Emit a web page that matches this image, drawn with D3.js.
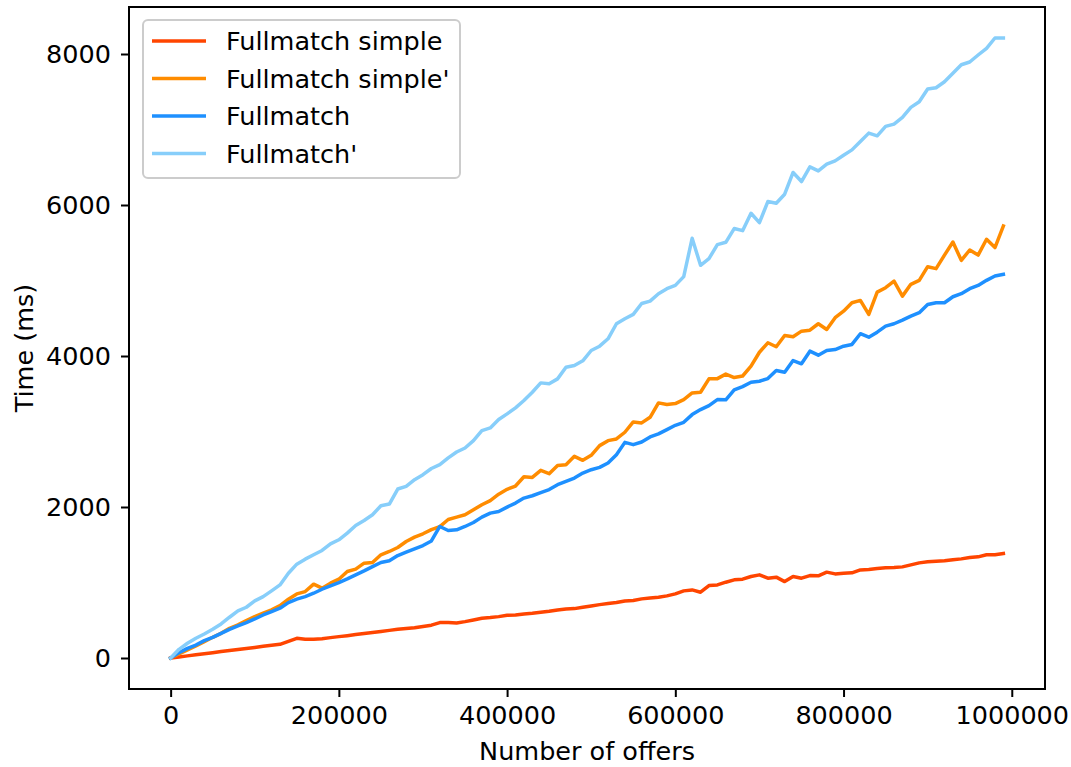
<!DOCTYPE html>
<html>
<head>
<meta charset="utf-8">
<script src="https://cdn.jsdelivr.net/npm/d3@7"></script>
<style>
  body { margin: 0; background: #fff; }
  svg { display: block; font-family: "DejaVu Sans", sans-serif; }
</style>
</head>
<body>
<svg id="chart" width="1071" height="767"></svg>
<script>
// data: offers 0 .. 990000 step 10000
var offers = d3.range(0, 1000000, 10000);

var fullmatchSimple = [
  0, 13, 28, 42, 55, 70, 85, 98, 112, 125, 140, 155, 168, 181, 221, 261, 248, 248, 256, 270,
  283, 296, 310, 325, 338, 352, 366, 380, 390, 400, 418, 435, 469, 469, 464, 482, 504, 526, 535, 548,
  566, 570, 584, 593, 606, 619, 637, 650, 654, 672, 690, 707, 721, 734, 756, 761, 783, 796, 805, 823,
  849, 889, 902, 871, 960, 968, 1004, 1035, 1044, 1079, 1101, 1057, 1071, 1012, 1079, 1057, 1092, 1088, 1137, 1114,
  1124, 1128, 1167, 1171, 1185, 1194, 1198, 1207, 1234, 1260, 1274, 1283, 1287, 1300, 1313, 1331, 1340, 1367, 1367, 1384
];

var fullmatchSimpleP = [
  0, 53, 106, 159, 217, 274, 327, 394, 438, 495, 548, 593, 637, 694, 779, 849, 880, 978, 925, 991,
  1044, 1145, 1177, 1256, 1265, 1367, 1411, 1464, 1543, 1601, 1645, 1700, 1740, 1835, 1866, 1897, 1963, 2030, 2085, 2170,
  2235, 2278, 2400, 2392, 2485, 2441, 2551, 2561, 2671, 2618, 2684, 2813, 2879, 2901, 2990, 3127, 3114, 3188, 3379, 3357,
  3370, 3423, 3511, 3520, 3698, 3700, 3760, 3715, 3735, 3865, 4050, 4175, 4122, 4272, 4255, 4329, 4342, 4427, 4352, 4507,
  4594, 4706, 4736, 4551, 4846, 4905, 4992, 4793, 4949, 5002, 5183, 5157, 5337, 5510, 5267, 5404, 5337, 5546, 5436, 5722
];

var fullmatch = [
  0, 71, 128, 172, 230, 274, 327, 380, 425, 469, 517, 570, 615, 659, 734, 779, 813, 858, 911, 955,
  999, 1048, 1101, 1154, 1211, 1265, 1287, 1357, 1402, 1446, 1490, 1550, 1742, 1689, 1698, 1742, 1795, 1866, 1919, 1941,
  1999, 2052, 2118, 2149, 2190, 2231, 2295, 2339, 2384, 2450, 2494, 2525, 2583, 2693, 2856, 2826, 2861, 2928, 2968, 3025,
  3082, 3122, 3224, 3290, 3343, 3423, 3420, 3550, 3595, 3652, 3666, 3701, 3808, 3785, 3940, 3897, 4064, 4011, 4073, 4086,
  4130, 4153, 4295, 4249, 4316, 4395, 4427, 4475, 4528, 4573, 4683, 4706, 4706, 4785, 4825, 4892, 4935, 5002, 5059, 5081
];

var fullmatchP = [
  0, 115, 195, 261, 318, 380, 451, 540, 624, 672, 756, 813, 889, 968, 1123, 1243, 1309, 1367, 1424, 1512,
  1566, 1654, 1755, 1822, 1897, 2017, 2039, 2238, 2273, 2362, 2428, 2510, 2561, 2650, 2729, 2782, 2879, 3012, 3047, 3158,
  3233, 3313, 3410, 3520, 3644, 3631, 3697, 3851, 3874, 3936, 4073, 4130, 4228, 4427, 4493, 4551, 4696, 4727, 4825, 4892,
  4935, 5051, 5559, 5201, 5290, 5475, 5506, 5688, 5660, 5891, 5767, 6046, 6023, 6143, 6431, 6311, 6505, 6452, 6541, 6585,
  6660, 6730, 6842, 6952, 6916, 7041, 7072, 7160, 7293, 7367, 7536, 7553, 7633, 7744, 7858, 7894, 7987, 8076, 8212, 8212
];

var seriesNames = ["Fullmatch simple", "Fullmatch simple'", "Fullmatch", "Fullmatch'"];
var seriesColors = ["#ff4500", "#ff8c00", "#1e90ff", "#87cefa"];
var seriesValues = [fullmatchSimple, fullmatchSimpleP, fullmatch, fullmatchP];

var xTicks = [0, 200000, 400000, 600000, 800000, 1000000];
var yTicks = [0, 2000, 4000, 6000, 8000];

// plot area (don't call it "top", window.top is read-only)
var plotL = 129, plotR = 1045, plotT = 7, plotB = 689;
var fontSize = '25.5px';
var lineW = 3.5;

var svg = d3.select('#chart');

// matplotlib style 5% margins
var xMax = d3.max(offers), yMax = d3.max(seriesValues, s => d3.max(s));
var x = d3.scaleLinear()
  .domain([-0.05 * xMax, xMax * 1.05])
  .range([plotL, plotR]);
var y = d3.scaleLinear()
  .domain([-0.05 * yMax, yMax * 1.05])
  .range([plotB, plotT]);

svg.append('clipPath').attr('id', 'clip')
  .append('rect')
  .attr('x', plotL).attr('y', plotT)
  .attr('width', plotR - plotL).attr('height', plotB - plotT);

var line = d3.line()
  .x((d, i) => x(offers[i]))
  .y(d => y(d));

svg.append('g')
  .attr('clip-path', 'url(#clip)')
  .selectAll('path')
  .data(seriesValues)
  .enter()
  .append('path')
  .attr('d', d => line(d))
  .attr('fill', 'none')
  .attr('stroke', (d, i) => seriesColors[i])
  .attr('stroke-width', lineW)
  .attr('stroke-linejoin', 'round')
  .attr('stroke-linecap', 'square');

// axes
var xAxis = svg.append('g')
  .attr('transform', 'translate(0,' + plotB + ')')
  .call(d3.axisBottom(x).tickValues(xTicks).tickFormat(d3.format('d')).tickSize(8).tickPadding(9));

var yAxis = svg.append('g')
  .attr('transform', 'translate(' + plotL + ',0)')
  .call(d3.axisLeft(y).tickValues(yTicks).tickFormat(d3.format('d')).tickSize(8).tickPadding(10));

[xAxis, yAxis].forEach(function (g) {
  g.select('.domain').remove();
  g.selectAll('.tick line').attr('stroke', '#000').attr('stroke-width', 2);
  g.selectAll('.tick text')
    .attr('fill', '#000')
    .style('font-family', '"DejaVu Sans", sans-serif')
    .style('font-size', fontSize);
});

// frame
svg.append('rect')
  .attr('x', plotL).attr('y', plotT)
  .attr('width', plotR - plotL).attr('height', plotB - plotT)
  .attr('fill', 'none')
  .attr('stroke', '#000')
  .attr('stroke-width', 2);

// axis labels
svg.append('text')
  .attr('x', (plotL + plotR) / 2)
  .attr('y', 760)
  .attr('text-anchor', 'middle')
  .style('font-size', fontSize)
  .text('Number of offers');

svg.append('text')
  .attr('transform', 'translate(33,' + (plotT + plotB) / 2 + ') rotate(-90)')
  .attr('text-anchor', 'middle')
  .style('font-size', fontSize)
  .text('Time (ms)');

// legend
var legend = svg.append('g');
legend.append('rect')
  .attr('x', 143).attr('y', 20)
  .attr('width', 317).attr('height', 158)
  .attr('rx', 5)
  .attr('fill', '#fff').attr('fill-opacity', 0.8)
  .attr('stroke', '#cccccc').attr('stroke-width', 2);

var item = legend.selectAll('.item')
  .data(seriesNames)
  .enter()
  .append('g')
  .attr('transform', (d, i) => 'translate(0,' + (41 + i * 37.5) + ')');

item.append('line')
  .attr('x1', 152).attr('x2', 206)
  .attr('stroke', (d, i) => seriesColors[i])
  .attr('stroke-width', lineW);

item.append('text')
  .attr('x', 226)
  .attr('y', 9)
  .style('font-size', fontSize)
  .text(d => d);
</script>
</body>
</html>
